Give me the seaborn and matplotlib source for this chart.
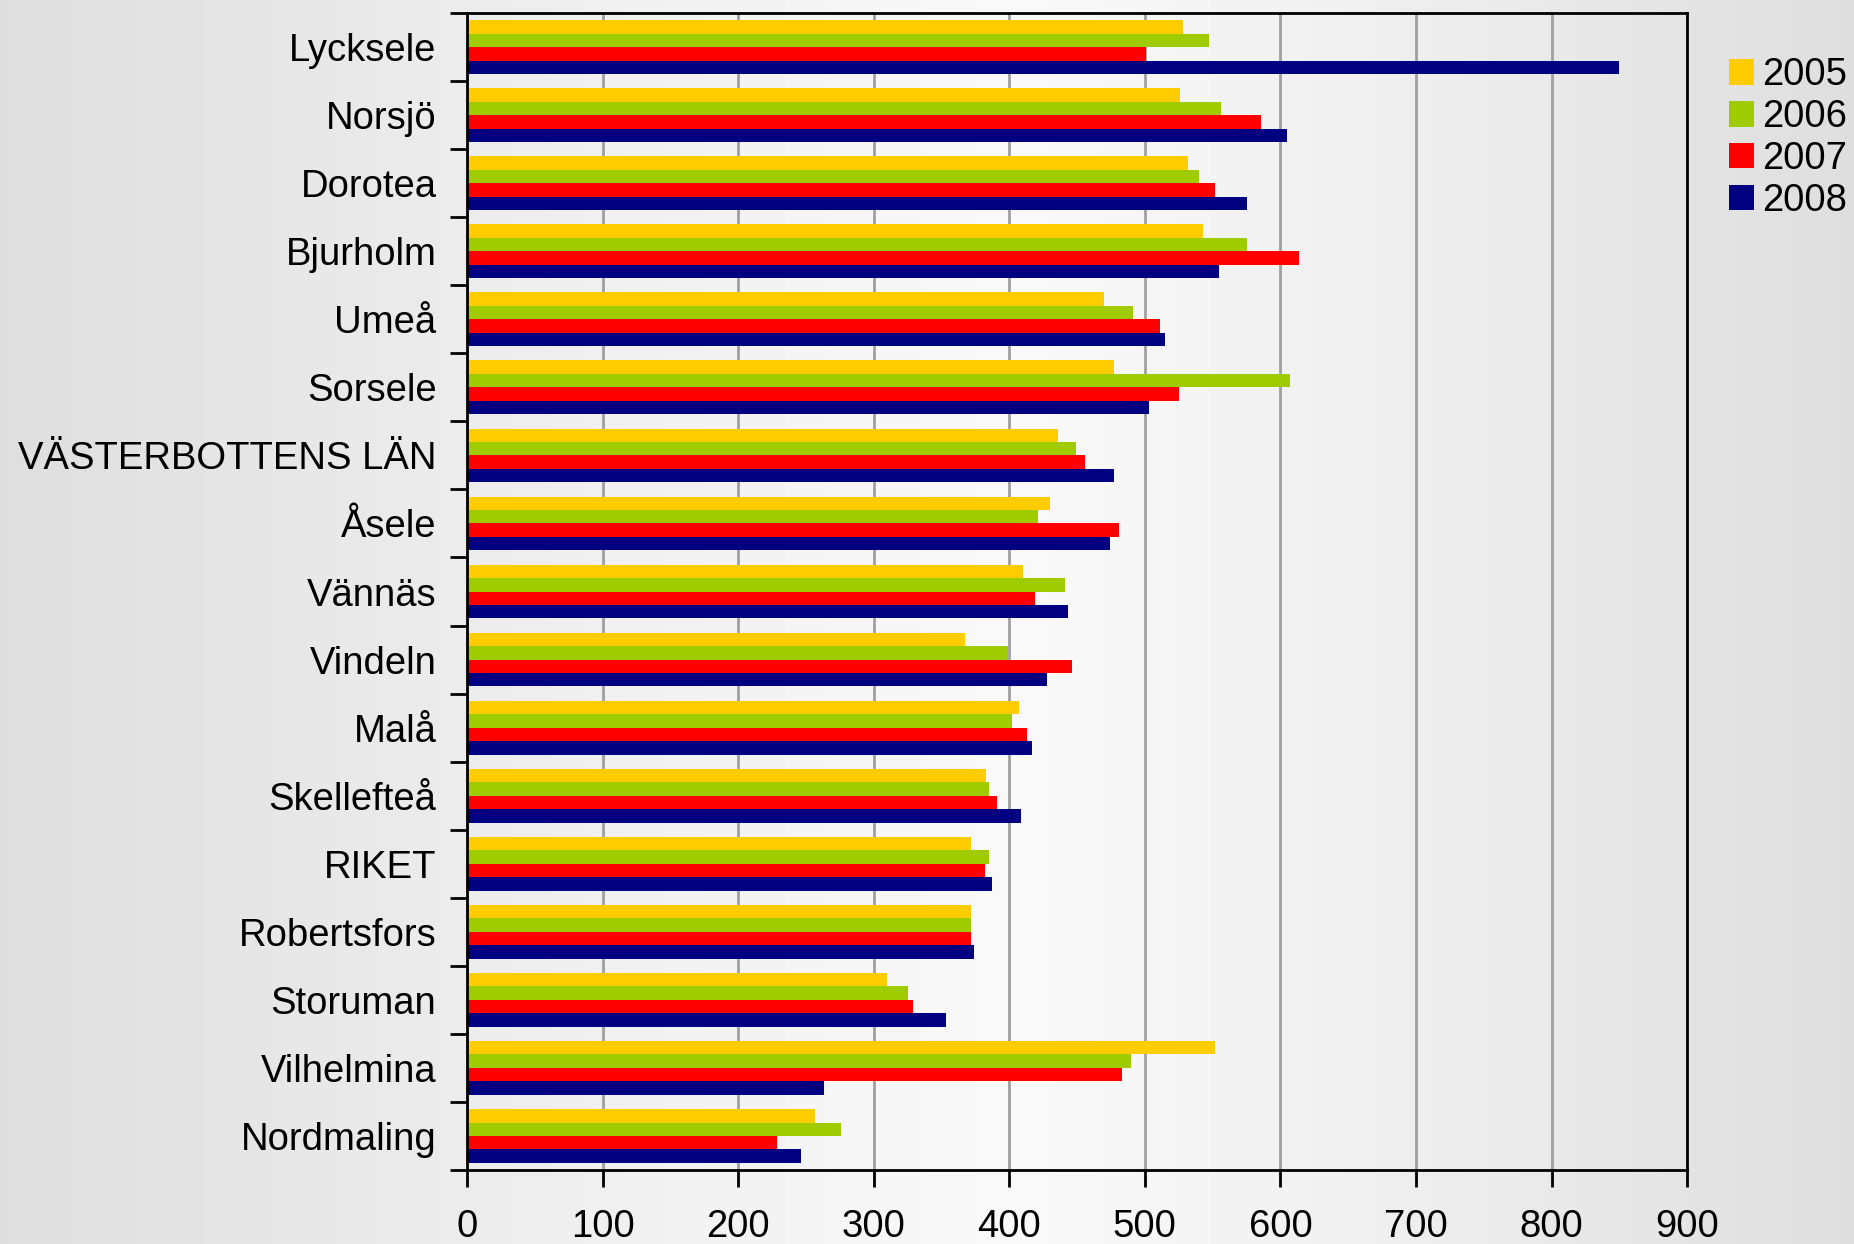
import numpy as np
import pandas as pd
import matplotlib.pyplot as plt
import seaborn as sns
from matplotlib.patches import Patch

kommuner = ['Lycksele', 'Norsjö', 'Dorotea', 'Bjurholm', 'Umeå', 'Sorsele',
            'VÄSTERBOTTENS LÄN', 'Åsele', 'Vännäs', 'Vindeln', 'Malå',
            'Skellefteå', 'RIKET', 'Robertsfors', 'Storuman', 'Vilhelmina',
            'Nordmaling']
years = ['2005', '2006', '2007', '2008']
v2005 = [528, 526, 532, 543, 470, 477, 436, 430, 410, 367, 407, 383, 372, 372, 310, 552, 257]
v2006 = [547, 556, 540, 575, 491, 607, 449, 421, 441, 399, 402, 385, 385, 372, 325, 490, 276]
v2007 = [501, 586, 552, 614, 511, 525, 456, 481, 419, 446, 413, 391, 382, 372, 329, 483, 229]
v2008 = [850, 605, 575, 555, 515, 503, 477, 474, 443, 428, 417, 409, 387, 374, 353, 263, 246]
colors = ['#FFCC00', '#9ECC00', '#FF0000', '#000080']

rows = []
for yr, vals in zip(years, [v2005, v2006, v2007, v2008]):
    for k, v in zip(kommuner, vals):
        rows.append({'Kommun': k, 'År': yr, 'Värde': v})
df = pd.DataFrame(rows)

sns.set_theme(style='white')
plt.rcParams['font.family'] = ['Liberation Sans', 'DejaVu Sans']
plt.rcParams['text.color'] = 'black'

fig = plt.figure(figsize=(18.54, 12.44), dpi=100)

# background gradient, light in the middle, grey at the sides
bg = fig.add_axes([0, 0, 1, 1], zorder=-10)
x = np.linspace(0, 1, 600)
c = 0.55
d = np.where(x < c, (c - x) / c, (x - c) / (1 - c))
shade = 0.975 - 0.105 * d ** 1.2
bg.imshow(np.tile(shade, (10, 1)), aspect='auto', cmap='gray', vmin=0, vmax=1,
          extent=[0, 1, 0, 1])
bg.axis('off')

ax = fig.add_axes([0.2519, 0.0595, 0.910 - 0.2519, 0.9895 - 0.0595])
ax.set_facecolor('none')
sns.barplot(data=df, y='Kommun', x='Värde', hue='År', palette=colors,
            orient='h', width=0.79, saturation=1, edgecolor='none',
            linewidth=0, legend=False, ax=ax)

ax.set_xlim(0, 900)
ax.set_ylim(len(kommuner) - 0.5, -0.5)
ax.set_xticks(range(0, 1000, 100))
ax.set_axisbelow(True)
ax.grid(True, axis='x', color='#a0a0a0', linewidth=2)
ax.grid(False, axis='y')
ax.set_xlabel('')
ax.set_ylabel('')

for s in ax.spines.values():
    s.set_color('black')
    s.set_linewidth(2)
    s.set_visible(True)

ax.tick_params(axis='x', length=12, width=2, direction='out', labelsize=27.5,
               pad=16, colors='black', bottom=True)
ax.tick_params(axis='y', which='major', length=0, labelsize=27.5, pad=22,
               colors='black')
ax.set_yticks(np.arange(-0.5, len(kommuner), 1), minor=True)
ax.tick_params(axis='y', which='minor', length=12, width=2, left=True,
               direction='out', color='black')

handles = [Patch(facecolor=col, edgecolor='none') for col in colors]
fig.legend(handles, years, loc='center left', bbox_to_anchor=(0.9325, 0.889),
           frameon=False, fontsize=27.5, handlelength=0.65, handleheight=0.65,
           handletextpad=0.22, labelspacing=0.15, borderpad=0,
           borderaxespad=0, labelcolor='black')

fig.savefig('out.png', dpi=100)
